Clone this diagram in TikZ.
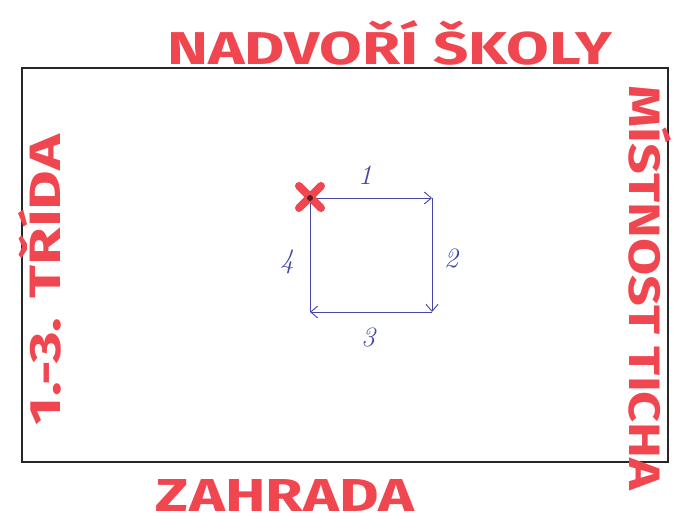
\documentclass[tikz,border=0pt]{standalone}
\usepackage{fontspec}
\usepackage{graphicx}
\setsansfont{Fira Sans}
\usetikzlibrary{arrows.meta}
\definecolor{penred}{RGB}{240,70,80}
\definecolor{penblue}{RGB}{70,70,170}
\tikzset{
  room/.style={draw=black!85, line width=1.2pt},
  label red/.style={text=penred, font=\sffamily\bfseries, inner sep=0pt},
  path arrow/.style={draw=penblue, line width=0.9pt, -{Straight Barb[length=7pt,width=12pt]}},
  numlabel/.style={text=penblue, font=\fontsize{28}{30}\selectfont\itshape, inner sep=0pt},
  cross/.style={draw=penred, line width=8pt, line cap=round}
}
\begin{document}
\begin{tikzpicture}[x=1pt,y=1pt]
\useasboundingbox (0,0) rectangle (685,525);
\fill[white] (0,0) rectangle (685,525);
% outer rectangle
\coordinate (rbl) at (22,63);
\coordinate (rtr) at (668,457);
\draw[room] (rbl) rectangle (rtr);
% labels
\node[label red] (top) at (390,482) {\resizebox{445pt}{44pt}{NADVOŘÍ ŠKOLY}};
\node[label red] (bottom) at (285,30) {\resizebox{258pt}{32pt}{ZAHRADA}};
\node[label red, rotate=90] (left) at (40,245) {\resizebox{290pt}{42pt}{1.-3. TŘÍDA}};
\node[label red, rotate=-90] (right) at (650,237) {\resizebox{405pt}{42pt}{MÍSTNOST TICHA}};
% route square
\coordinate (a) at (310,327);
\coordinate (b) at (432,327);
\coordinate (c) at (432,213);
\coordinate (d) at (310,213);
\draw[path arrow] (a) -- (b);
\draw[path arrow] (b) -- (c);
\draw[path arrow] (c) -- (d);
\draw[path arrow] (d) -- (a);
\node[numlabel] (n1) at (365,350) {1};
\node[numlabel] (n2) at (451,267) {2};
\node[numlabel] (n3) at (368,188) {3};
\node[numlabel] (n4) at (287,263) {4};
% start cross
\draw[cross] (299,339) -- (321,317);
\draw[cross] (299,317) -- (321,339);
\fill[black!60!penred] (a) circle (3pt);
\end{tikzpicture}
\end{document}
